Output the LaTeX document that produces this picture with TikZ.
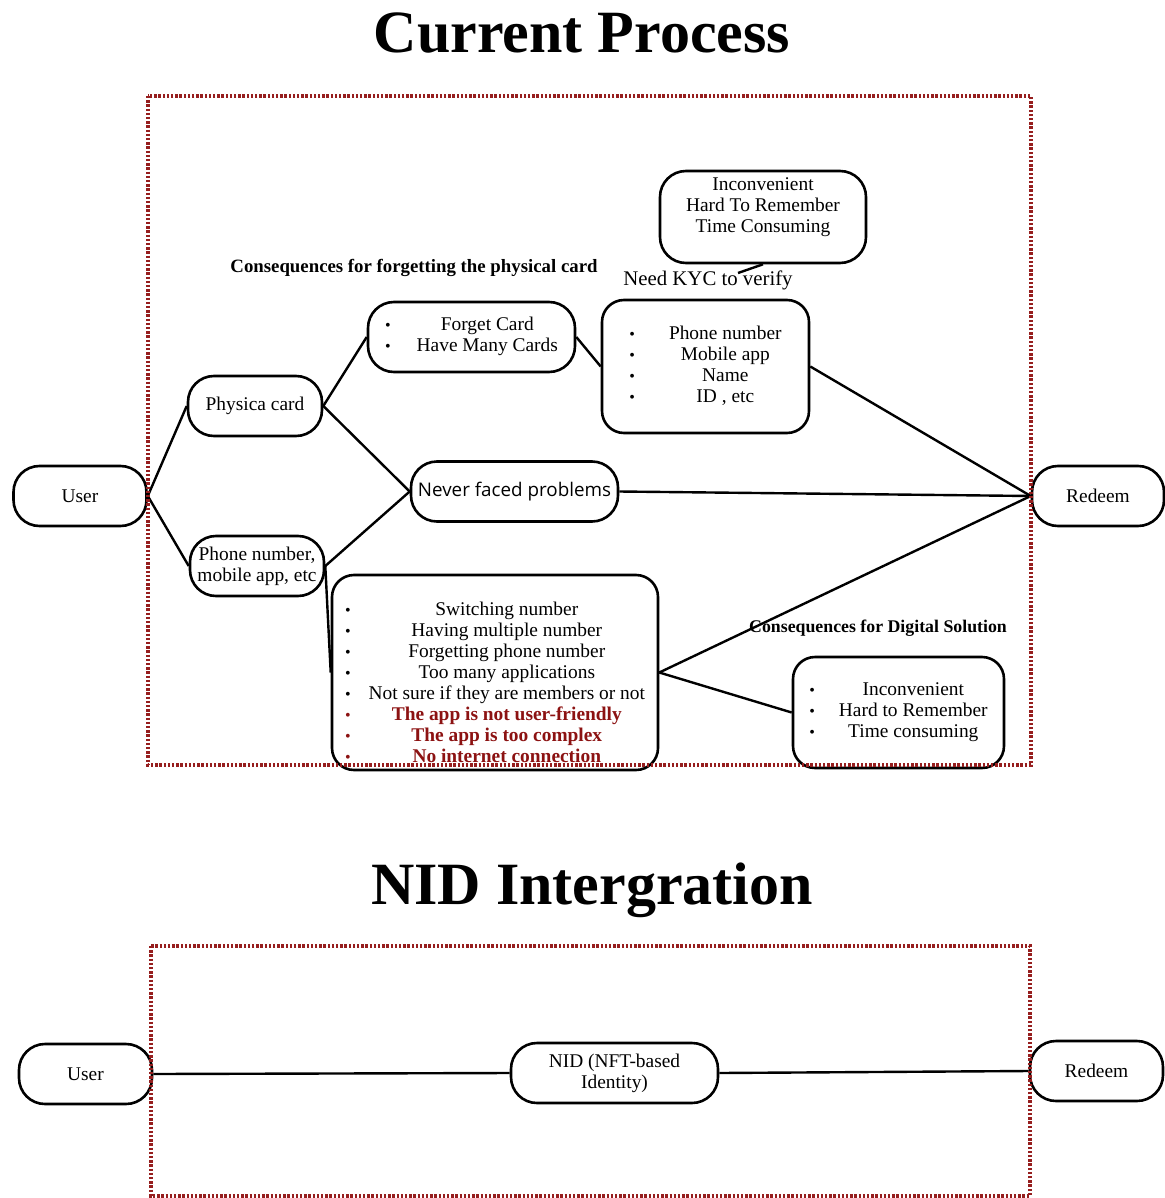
\documentclass[tikz,border=0pt]{standalone}
\usepackage{fontspec}
\setmainfont{Liberation Serif}
\newfontfamily\sansbox{Open Sans}
\definecolor{borderred}{RGB}{150,30,30}
\definecolor{noteRed}{RGB}{140,18,18}
\newcommand{\blt}{{\footnotesize\textbullet}}
\newcommand{\redrow}[1]{\textcolor{noteRed}{\blt} & \textcolor{noteRed}{\bfseries #1}}

\begin{document}
\begin{tikzpicture}[x=0.5pt,y=-0.5pt]
  \tikzstyle{every node}=[font=\fontsize{9.7}{10.5}\selectfont]
  \tikzstyle{pill}=[draw,line width=1.3pt,rounded corners=13pt,minimum height=30pt,align=center,inner sep=1pt]
  \tikzstyle{listbox}=[draw,line width=1.3pt,rounded corners=11pt,align=center,inner sep=2pt]
  \tikzstyle{link}=[line width=1.2pt]
  \tikzstyle{frame}=[borderred,line width=1.6pt,dash pattern=on 1.2pt off 0.9pt]
  \useasboundingbox (0,0) rectangle (1164,1198);
  \node (title1) at (582,33) {\fontsize{30}{36}\selectfont\bfseries Current Process};
  \node (title2) at (592,890) {\fontsize{30}{36}\selectfont\bfseries NID Intergration};
  % current process
  \node [pill,minimum width=66.5pt] (user) at (80,496) {User};
  \node [pill,minimum width=67pt] (card) at (255,406) {Physica card};
  \node [pill,minimum width=67pt] (phone) at (257,566) {Phone number,\\mobile app, etc};
  \node [pill,minimum width=103.5pt,minimum height=35pt] (forget) at (471.5,337)
    {\begin{tabular}{@{}c@{\hspace{13pt}}c@{}}\blt & Forget Card\\ \blt & Have Many Cards\end{tabular}};
  \node [listbox,minimum width=103.5pt,minimum height=66.5pt] (ident) at (705.5,366.5)
    {\begin{tabular}{@{}c@{\hspace{17pt}}c@{}}\blt & Phone number\\ \blt & Mobile app\\ \blt & Name\\ \blt & ID , etc\end{tabular}};
  \node [listbox,minimum width=103pt,minimum height=46pt,rounded corners=13pt] (bubble) at (763,217)
    {Inconvenient\\Hard To Remember\\Time Consuming\rule[-11.5pt]{0pt}{11.5pt}};
  \node (kyc) at (708,280) {\fontsize{10.4}{12}\selectfont Need KYC to verify};
  \coordinate (tailtip) at (738,273);
  \node (conscard) at (414,268) {\fontsize{9.4}{11}\selectfont\bfseries Consequences for forgetting the physical card};
  \node [pill,minimum width=103.5pt,font=\sansbox\fontsize{9.4}{10}\selectfont] (never) at (514.5,491.5) {Never faced problems};
  \node [pill,minimum width=66pt] (redeem) at (1098,496) {Redeem};
  \node [listbox,minimum width=163pt,minimum height=97.5pt,inner sep=0pt] (issues) at (495,672.5)
    {\begin{tabular}{@{}c@{\hspace{9pt}}c@{}}
      \rule{0pt}{19.4pt}\blt & Switching number\\
      \blt & Having multiple number\\
      \blt & Forgetting phone number\\
      \blt & Too many applications\\
      \blt & Not sure if they are members or not\\
      \redrow{The app is not user-friendly}\\
      \redrow{The app is too complex}\\
      \redrow{No internet connection}
    \end{tabular}};
  \node (consdigital) at (878,628) {\fontsize{8.9}{11}\selectfont\bfseries Consequences for Digital Solution};
  \node [listbox,minimum width=105.5pt,minimum height=55.5pt] (digital) at (898.5,712.5)
    {\begin{tabular}{@{}c@{\hspace{12pt}}c@{}}\blt & Inconvenient\\ \blt & Hard to Remember\\ \blt & Time consuming\end{tabular}};
  \draw [link] (bubble.south) -- (tailtip);
  \draw [link] (user.east) -- (card.west);
  \draw [link] (user.east) -- (phone.west);
  \draw [link] (card.east) -- (forget.west);
  \draw [link] (card.east) -- (never.west);
  \draw [link] (phone.east) -- (never.west);
  \draw [link] (phone.east) -- (issues.west);
  \draw [link] (forget.east) -- (ident.west);
  \draw [link] (ident.east) -- (redeem.west);
  \draw [link] (never.east) -- (redeem.west);
  \draw [link] (issues.east) -- (redeem.west);
  \draw [link] (issues.east) -- (digital.west);
  % NID integration
  \node [pill,minimum width=66.5pt] (user2) at (85.5,1074) {User};
  \node [pill,minimum width=103.5pt] (nid) at (614.5,1073) {NID (NFT-based\\Identity)};
  \node [pill,minimum width=66.5pt] (redeem2) at (1096.5,1071) {Redeem};
  \draw [link] (user2.east) -- (nid.west);
  \draw [link] (nid.east) -- (redeem2.west);
  \draw [frame] (148,96) rectangle (1031,765);
  \draw [frame] (151,946) rectangle (1030,1196);
\end{tikzpicture}
\end{document}
